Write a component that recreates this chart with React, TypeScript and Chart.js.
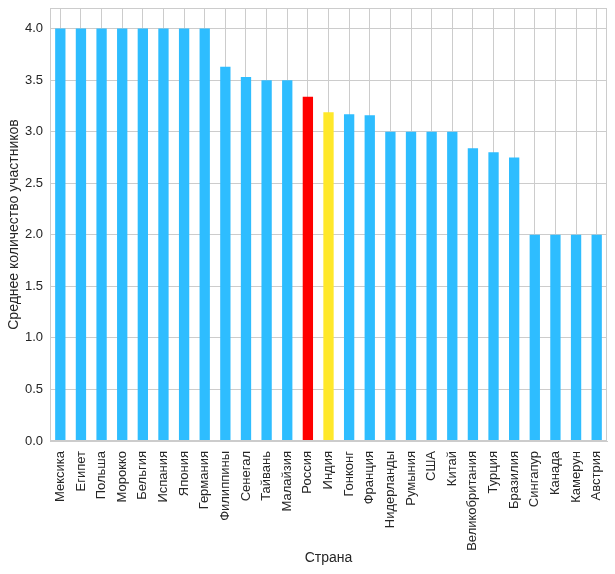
import React, { useEffect, useRef } from "react";
import { Chart, registerables } from "chart.js";

Chart.register(...registerables);

const countries = [
  "Мексика", "Египет", "Польша", "Морокко", "Бельгия", "Испания", "Япония", "Германия",
  "Филиппины", "Сенегал", "Тайвань", "Малайзия", "Россия", "Индия", "Гонконг", "Франция",
  "Нидерланды", "Румыния", "США", "Китай", "Великобритания", "Турция", "Бразилия",
  "Сингапур", "Канада", "Камерун", "Австрия",
];
const avgParticipants = [
  4.0, 4.0, 4.0, 4.0, 4.0, 4.0, 4.0, 4.0,
  3.63, 3.53, 3.5, 3.5, 3.34, 3.19, 3.17, 3.16,
  3.0, 3.0, 3.0, 3.0, 2.84, 2.8, 2.75,
  2.0, 2.0, 2.0, 2.0,
];
const yTickValues = [0, 0.5, 1, 1.5, 2, 2.5, 3, 3.5, 4];
const highlight: Record<string, string> = { "Россия": "#ff0000", "Индия": "#ffe82a" };
const baseColor = "#2ebdff";
const yTitle = "Среднее количество участников";
const xTitle = "Страна";

const FONT = "'Liberation Sans', Arial, sans-serif";

const framePlugin = {
  id: "frame",
  afterDraw(chart: any) {
    const { ctx, chartArea } = chart;
    ctx.save();
    ctx.strokeStyle = "#cccccc";
    ctx.lineWidth = 1;
    ctx.strokeRect(chartArea.left + 0.5, chartArea.top + 0.5, chartArea.right - chartArea.left - 1, chartArea.bottom - chartArea.top - 1);
    ctx.restore();
  },
};

export default function App() {
  const ref = useRef<HTMLCanvasElement>(null);
  useEffect(() => {
    if (!ref.current) return;
    const chart = new Chart(ref.current, {
      type: "bar",
      data: {
        labels: countries,
        datasets: [
          {
            data: avgParticipants,
            backgroundColor: countries.map((c) => highlight[c] || baseColor),
            barPercentage: 0.5,
            categoryPercentage: 1,
          },
        ],
      },
      options: {
        animation: false,
        responsive: false,
        maintainAspectRatio: false,
        layout: { padding: { left: 6, right: 8, top: 8, bottom: 7 } },
        plugins: { legend: { display: false }, tooltip: { enabled: false } },
        scales: {
          x: {
            offset: true,
            afterFit: (axis: any) => {
              axis.height = 126;
              axis.paddingLeft = 0;
              axis.paddingRight = 0;
            },
            grid: { offset: false, color: "#cccccc", drawTicks: false },
            border: { color: "#cccccc" },
            ticks: {
              minRotation: 90,
              maxRotation: 90,
              autoSkip: false,
              padding: 10,
              color: "#262626",
              font: { family: FONT, size: 13 },
            },
            title: {
              display: true,
              text: xTitle,
              color: "#262626",
              font: { family: FONT, size: 14 },
              padding: { top: 0, bottom: 0 },
            },
          },
          y: {
            min: 0,
            max: 4.2,
            afterBuildTicks: (axis: any) => {
              axis.ticks = yTickValues.map((v) => ({ value: v }));
            },
            afterFit: (axis: any) => {
              axis.width = 44;
              axis.paddingTop = 0;
              axis.paddingBottom = 0;
            },
            grid: { color: "#cccccc", drawTicks: false },
            border: { color: "#cccccc" },
            ticks: {
              padding: 7,
              color: "#262626",
              font: { family: FONT, size: 13 },
              callback: (v: any) => Number(v).toFixed(1),
            },
            title: {
              display: true,
              text: yTitle,
              color: "#262626",
              font: { family: FONT, size: 14 },
              padding: { top: 0, bottom: 0 },
            },
          },
        },
      },
      plugins: [framePlugin],
    });
    return () => chart.destroy();
  }, []);
  return (
    <div style={{ position: "fixed", left: 0, top: 0, width: 615, height: 574, background: "#fff" }}>
      <canvas ref={ref} width={615} height={574} style={{ width: 615, height: 574 }} />
    </div>
  );
}
